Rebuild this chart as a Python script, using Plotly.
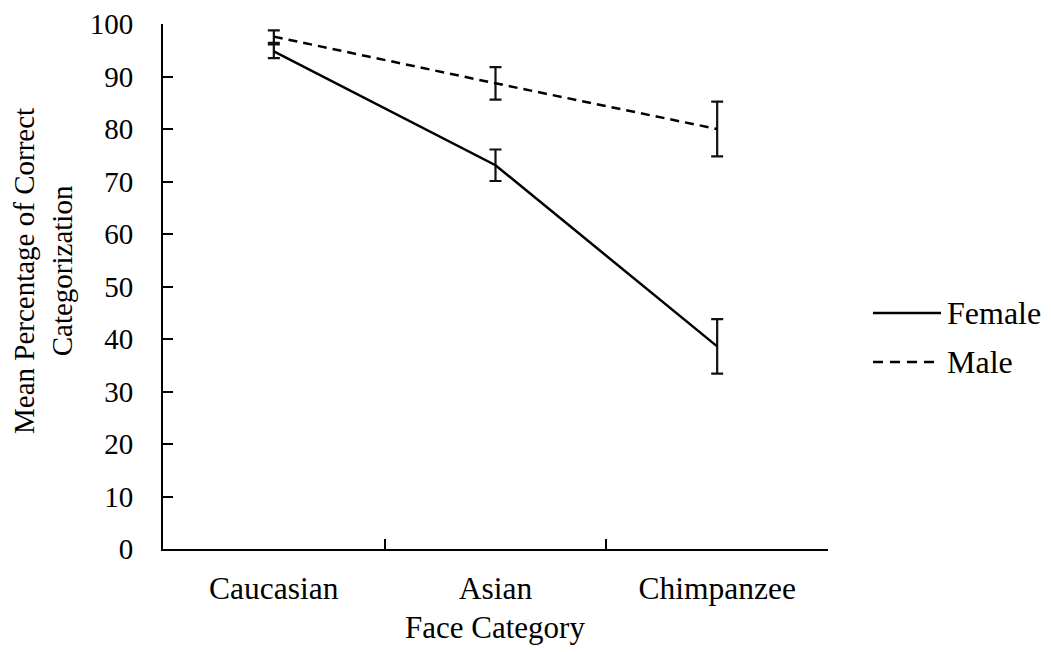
import plotly.graph_objects as go

categories = ["Caucasian", "Asian", "Chimpanzee"]
series_names = ["Female", "Male"]
female_mean = [94.8, 73.1, 38.6]
female_err = [1.3, 3.0, 5.2]
male_mean = [97.6, 88.7, 80.0]
male_err = [1.2, 3.1, 5.2]
y_ticks = [0, 10, 20, 30, 40, 50, 60, 70, 80, 90, 100]

FONT = "Liberation Serif, Times New Roman, serif"

# page body margin offset (px)
OFF = 8
W, H = 1051, 652
L, R, T, B = 163 - OFF, 1051 - 828 + OFF, 24 - OFF, 652 - 549 + OFF
pw, ph = W - L - R, H - T - B

def px_to_paper_x(px):
    return (px - OFF - L) / pw

def px_to_paper_y(py):
    return (H - B - (py - OFF)) / ph

fig = go.Figure()
fig.add_trace(go.Scatter(
    x=categories, y=female_mean, mode="lines", name=series_names[0],
    line=dict(color="black", width=2.5),
    error_y=dict(type="data", array=female_err, visible=True, color="#111", thickness=2.2, width=6),
    showlegend=False,
))
fig.add_trace(go.Scatter(
    x=categories, y=male_mean, mode="lines", name=series_names[1],
    line=dict(color="black", width=2.5, dash="9px,6px"),
    error_y=dict(type="data", array=male_err, visible=True, color="#111", thickness=2.2, width=6),
    showlegend=False,
))

# manual legend
legend_rows = [(series_names[0], "solid", 313), (series_names[1], "10px,7px", 362)]
for name, dash, py in legend_rows:
    yy = px_to_paper_y(py)
    fig.add_shape(type="line", xref="paper", yref="paper",
                  x0=px_to_paper_x(873), x1=px_to_paper_x(941), y0=yy, y1=yy,
                  line=dict(color="black", width=2.5, dash=dash))
    fig.add_annotation(xref="paper", yref="paper", x=px_to_paper_x(945), y=yy,
                       text=name, showarrow=False, xanchor="left", yanchor="middle",
                       font=dict(family=FONT, size=32, color="black"))

# axis titles
fig.add_annotation(xref="paper", yref="paper", x=px_to_paper_x(495), y=px_to_paper_y(627),
                   text="Face Category", showarrow=False, xanchor="center", yanchor="middle",
                   font=dict(family=FONT, size=31, color="black"))
fig.add_annotation(xref="paper", yref="paper", x=px_to_paper_x(43), y=px_to_paper_y(271),
                   text="Mean Percentage of Correct<br>Categorization", showarrow=False,
                   textangle=-90, xanchor="center", yanchor="middle",
                   font=dict(family=FONT, size=29, color="black"))

fig.update_xaxes(
    type="category", categoryorder="array", categoryarray=categories,
    range=[-0.5, 2.5], tickson="boundaries", ticks="inside", ticklen=10,
    tickwidth=2, tickcolor="black", showline=True, linecolor="black", linewidth=2,
    showgrid=False, zeroline=False, ticklabelstandoff=10,
    tickfont=dict(family=FONT, size=31.5, color="black"),
)
fig.update_yaxes(
    range=[0, 100], tickvals=y_ticks, ticks="inside", ticklen=10, tickwidth=2,
    tickcolor="black", showline=True, linecolor="black", linewidth=2,
    showgrid=False, zeroline=False, ticklabelstandoff=22,
    tickfont=dict(family=FONT, size=29, color="black"),
)
fig.update_layout(
    width=W, height=H, margin=dict(l=L, r=R, t=T, b=B, autoexpand=False),
    plot_bgcolor="white", paper_bgcolor="white", showlegend=False,
)
fig.write_html("out.html")
